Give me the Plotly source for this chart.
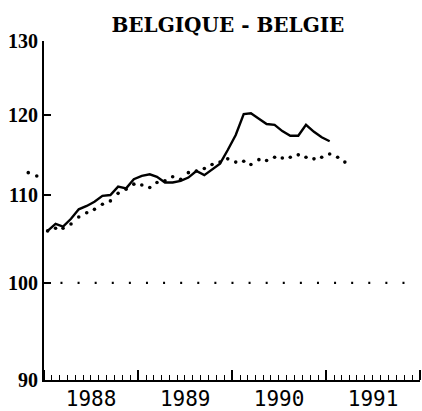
import plotly.graph_objects as go
import pandas as pd

# monthly index, solid line (Jan 1988 - Jan 1991)
solid_start = '1988-01'
solid_values = [105.8, 106.6, 106.3, 107.2, 108.3, 108.7, 109.2, 109.9, 110.0, 111.0, 110.8, 111.9,
                112.3, 112.5, 112.2, 111.5, 111.5, 111.7, 112.1, 112.9, 112.4, 113.1, 113.8, 115.5,
                117.4, 120.1, 120.2, 119.5, 118.8, 118.7, 117.9, 117.3, 117.3, 118.7, 117.8, 117.1,
                116.6]

# dotted series (Jan 1988 - Mar 1991), plus the two late-1987 points left of the axis
dotted_start = '1988-01'
dotted_values = [105.8, 106.1, 106.1, 106.6, 107.4, 107.9, 108.3, 108.9, 109.3, 110.2, 110.7, 111.3,
                 111.2, 110.9, 111.5, 111.7, 112.2, 111.9, 112.7, 112.9, 113.2, 113.7, 114.0, 114.4,
                 114.0, 114.1, 113.7, 114.3, 114.2, 114.6, 114.5, 114.6, 114.9, 114.6, 114.4, 114.6,
                 115.0, 114.6, 114.0]
early_x = ['1987-11-01', '1987-12-04']
early_values = [112.7, 112.3]

base_x = ['1988-03-05', '1991-11-03']
base_y = [100, 100]

y_ticks = [90, 100, 110, 120, 130]
y_range = [1.954243, 2.113943]


def mid_months(start, n):
    return pd.date_range(start, periods=n, freq='MS') + pd.Timedelta(days=14)


def make_graph():
    fig = go.Figure()

    fig.add_trace(go.Scatter(x=base_x, y=base_y, mode='lines',
                             line=dict(color='black', width=2.2, dash='2px,15.1px'),
                             showlegend=False, hoverinfo='skip'))

    fig.add_trace(go.Scatter(x=mid_months(dotted_start, len(dotted_values)), y=dotted_values,
                             mode='markers', marker=dict(color='black', size=3.6),
                             showlegend=False))

    # points before 1988 sit left of the axis, so they go on a wider hidden subplot
    fig.add_trace(go.Scatter(x=early_x, y=early_values, xaxis='x2', yaxis='y2',
                             mode='markers', marker=dict(color='black', size=3.6),
                             showlegend=False))

    fig.add_trace(go.Scatter(x=mid_months(solid_start, len(solid_values)), y=solid_values,
                             mode='lines', line=dict(color='black', width=2.4),
                             showlegend=False))

    fig.update_layout(
        width=422, height=411,
        margin=dict(l=10, r=2, t=41, b=31, autoexpand=False),
        paper_bgcolor='white', plot_bgcolor='rgba(0,0,0,0)',
        title=dict(text='BELGIQUE - BELGIE', x=0.54, xanchor='center', y=0.94, yanchor='middle',
                   font=dict(family='DejaVu Serif', size=20, color='black', weight='bold')),
        xaxis=dict(
            type='date', domain=[34 / 410, 1], range=['1988-01-01', '1992-01-01'], anchor='y',
            automargin=False,
            showline=True, linecolor='black', linewidth=2, showgrid=False, zeroline=False,
            dtick='M12', tick0='1988-01-01', tickformat='%Y', ticklabelmode='period',
            ticks='inside', ticklen=10, tickwidth=1.5, tickcolor='black', ticklabelstandoff=-1,
            minor=dict(dtick='M1', ticks='inside', ticklen=5, tickwidth=1.3, tickcolor='black'),
            tickfont=dict(family='DejaVu Sans Mono', size=21, color='black')),
        yaxis=dict(
            type='log', range=y_range, anchor='x', domain=[0, 1], automargin=False,
            tickvals=y_ticks, ticktext=[str(v) for v in y_ticks],
            showline=True, linecolor='black', linewidth=2, showgrid=False, zeroline=False,
            ticks='inside', ticklen=7, tickwidth=2, tickcolor='black',
            tickfont=dict(family='Liberation Serif', size=20, color='black', weight='bold')),
        xaxis2=dict(type='date', domain=[0, 1], range=['1987-08-22', '1992-01-01'],
                    anchor='y2', visible=False, showgrid=False, zeroline=False),
        yaxis2=dict(type='log', domain=[0, 1], range=y_range, anchor='x2',
                    visible=False, showgrid=False, zeroline=False),
    )

    fig.write_html('out.html', config={'displayModeBar': False},
                   post_script="document.body.style.margin='0';")


if __name__ == '__main__':
    make_graph()
